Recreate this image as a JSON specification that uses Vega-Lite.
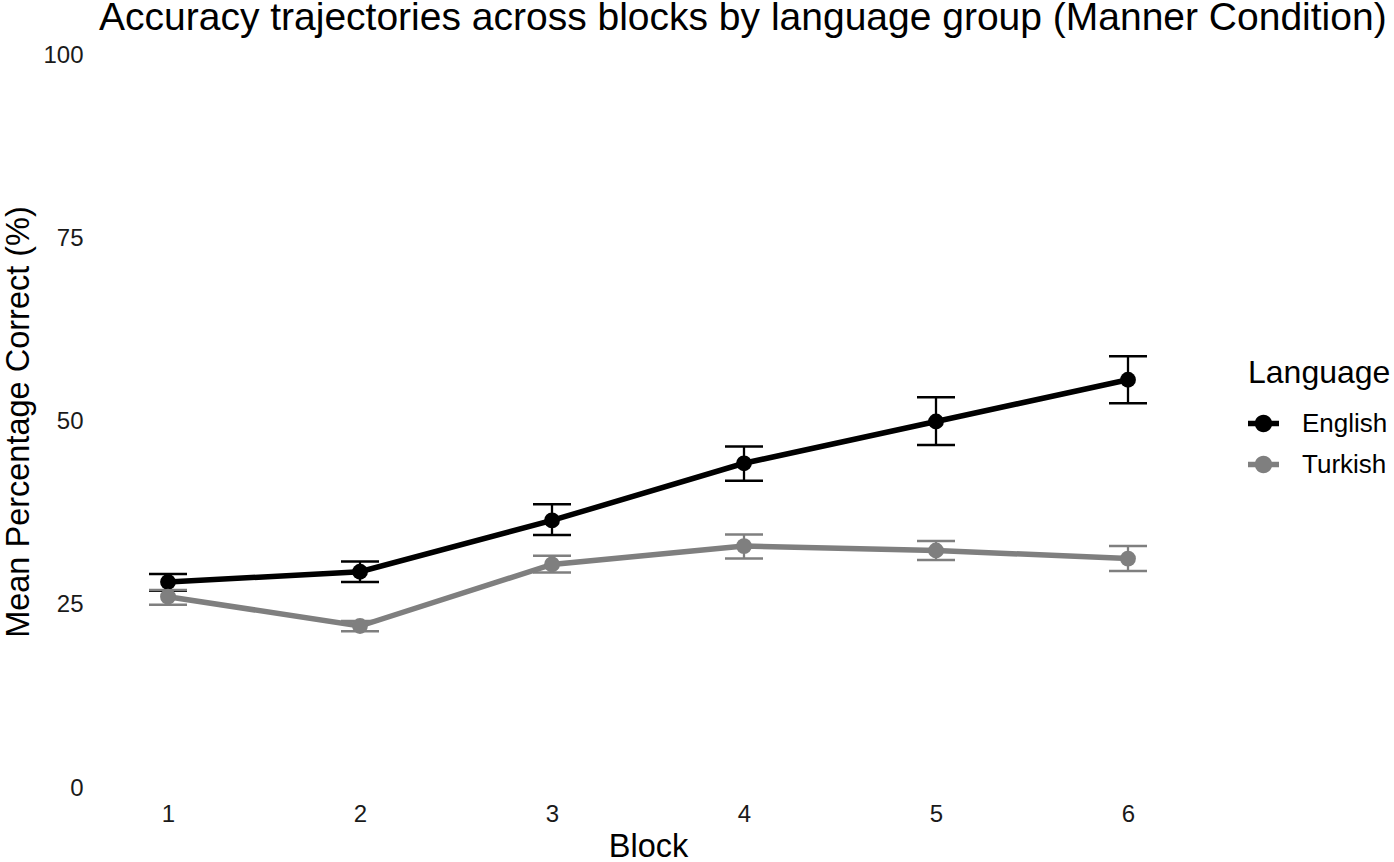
{
  "$schema": "https://vega.github.io/schema/vega-lite/v6.json",
  "autosize": {"type": "none"},
  "width": 1056,
  "height": 733,
  "padding": {"left": 120, "top": 55, "right": 218, "bottom": 74},
  "background": "white",
  "title": {
    "text": "Accuracy trajectories across blocks by language group (Manner Condition)",
    "anchor": "start",
    "frame": "group",
    "dx": -21,
    "offset": 5,
    "fontSize": 39,
    "font": "Liberation Sans",
    "fontWeight": "normal",
    "color": "#000000"
  },
  "config": {
    "view": {"stroke": null},
    "font": "Liberation Sans",
    "axis": {"grid": false, "domain": false, "ticks": false, "labelFont": "Liberation Sans", "titleFont": "Liberation Sans", "labelColor": "#1a1a1a", "titleColor": "#000000", "labelFontSize": 24, "titleFontSize": 32.5, "titleFontWeight": "normal"}
  },
  "data": {
    "values": [
      {"Block": 1, "Language": "English", "Mean": 28.1, "Lower": 26.9, "Upper": 29.2},
      {"Block": 2, "Language": "English", "Mean": 29.5, "Lower": 28.1, "Upper": 30.9},
      {"Block": 3, "Language": "English", "Mean": 36.5, "Lower": 34.5, "Upper": 38.7},
      {"Block": 4, "Language": "English", "Mean": 44.3, "Lower": 41.9, "Upper": 46.6},
      {"Block": 5, "Language": "English", "Mean": 50.0, "Lower": 46.8, "Upper": 53.3},
      {"Block": 6, "Language": "English", "Mean": 55.7, "Lower": 52.5, "Upper": 58.9},
      {"Block": 1, "Language": "Turkish", "Mean": 26.1, "Lower": 25.0, "Upper": 27.0},
      {"Block": 2, "Language": "Turkish", "Mean": 22.1, "Lower": 21.4, "Upper": 22.8},
      {"Block": 3, "Language": "Turkish", "Mean": 30.5, "Lower": 29.4, "Upper": 31.7},
      {"Block": 4, "Language": "Turkish", "Mean": 33.0, "Lower": 31.3, "Upper": 34.6},
      {"Block": 5, "Language": "Turkish", "Mean": 32.4, "Lower": 31.1, "Upper": 33.7},
      {"Block": 6, "Language": "Turkish", "Mean": 31.3, "Lower": 29.6, "Upper": 33.0}
    ]
  },
  "encoding": {
    "x": {
      "field": "Block", "type": "quantitative",
      "scale": {"domain": [0.75, 6.25], "nice": false, "zero": false},
      "axis": {"values": [1, 2, 3, 4, 5, 6], "title": "Block", "labelPadding": 14, "titleY": 58, "titleBaseline": "middle"}
    },
    "y": {
      "field": "Mean", "type": "quantitative",
      "scale": {"domain": [0, 100], "nice": false, "zero": false},
      "axis": {"values": [0, 25, 50, 75, 100], "title": "Mean Percentage Correct (%)", "labelPadding": 37, "titleX": -102, "titleY": 366.5, "titleAngle": -90, "titleBaseline": "middle", "titleAlign": "center"}
    },
    "color": {
      "field": "Language", "type": "nominal",
      "scale": {"domain": ["English", "Turkish"], "range": ["#000000", "#7f7f7f"]},
      "legend": {
        "orient": "none", "legendX": 1128, "legendY": 303,
        "symbolType": "M-1,-0.17L1,-0.17L1,0.17L-1,0.17ZM0.56,0A0.56,0.56,0,1,1,-0.56,0A0.56,0.56,0,1,1,0.56,0Z",
        "symbolSize": 961, "symbolStrokeWidth": 0, "symbolOpacity": 1,
        "title": "Language", "titleFontSize": 32, "titleFont": "Liberation Sans", "titleFontWeight": "normal", "titleColor": "#000000", "titlePadding": 18,
        "labelFontSize": 26, "labelFont": "Liberation Sans", "labelColor": "#000000", "labelOffset": 23,
        "rowPadding": 12, "padding": 0
      }
    }
  },
  "layer": [
    {
      "mark": {"type": "line", "strokeWidth": 5.5}
    },
    {
      "mark": {"type": "rule", "strokeWidth": 2.3},
      "encoding": {
        "y": {"field": "Lower", "type": "quantitative"},
        "y2": {"field": "Upper"}
      }
    },
    {
      "mark": {"type": "tick", "orient": "horizontal", "size": 38, "thickness": 2.5, "opacity": 1},
      "encoding": {
        "y": {"field": "Lower", "type": "quantitative"}
      }
    },
    {
      "mark": {"type": "tick", "orient": "horizontal", "size": 38, "thickness": 2.5, "opacity": 1},
      "encoding": {
        "y": {"field": "Upper", "type": "quantitative"}
      }
    },
    {
      "mark": {"type": "point", "filled": true, "size": 250, "opacity": 1}
    }
  ]
}
